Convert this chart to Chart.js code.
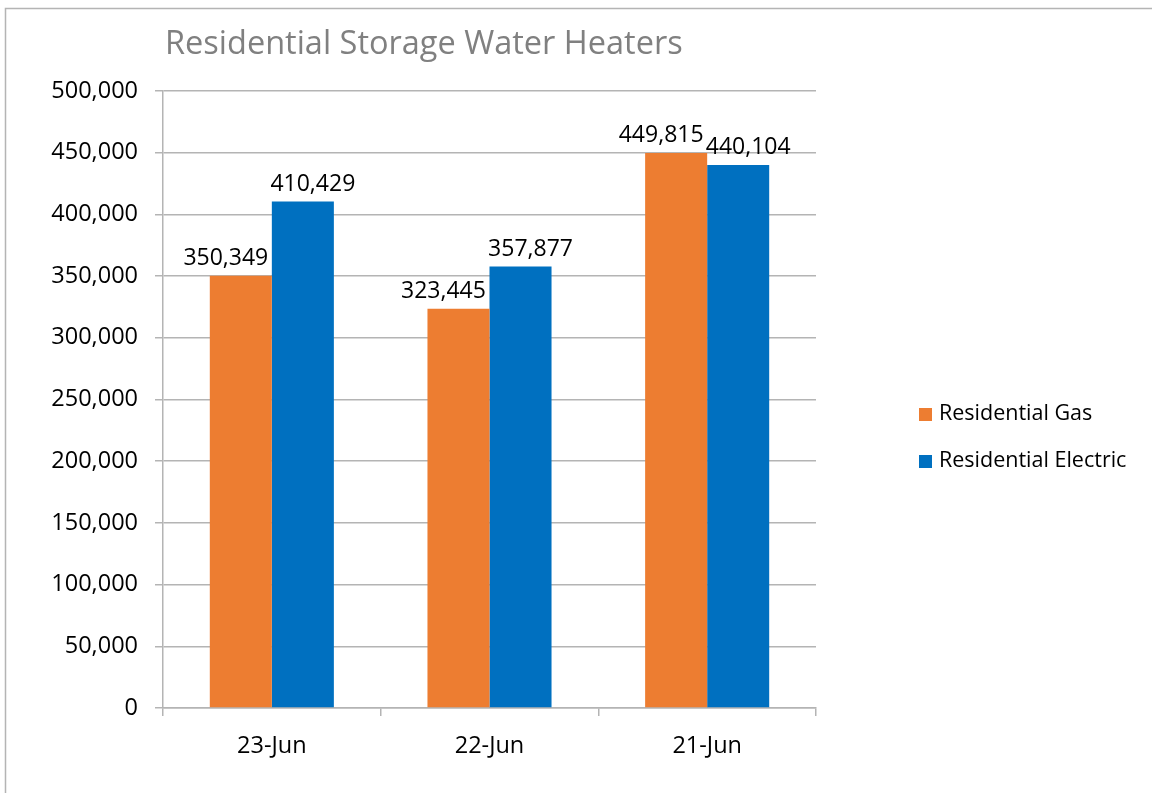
<!DOCTYPE html>
<html>
<head>
<meta charset="utf-8">
<script src="https://cdn.jsdelivr.net/npm/chart.js@4/dist/chart.umd.min.js"></script>
<style>
  html, body { margin: 0; padding: 0; background: #fff; }
  #wrap { width: 1152px; height: 793px; position: relative; }
</style>
</head>
<body>
<div id="wrap"><canvas id="heatersChart" width="1152" height="793"></canvas></div>
<script>
// data
const categories = ["23-Jun", "22-Jun", "21-Jun"];
const gasValues = [350349, 323445, 449815];
const electricValues = [410429, 357877, 440104];
const seriesNames = ["Residential Gas", "Residential Electric"];
const chartTitle = "Residential Storage Water Heaters";

const FONT = "'Open Sans', 'Noto Sans', sans-serif";
const fmt = (v) => v.toLocaleString("en-US");

// white background + outer frame, title, legend, value labels
const decorPlugin = {
  id: "decor",
  beforeDraw(chart) {
    const ctx = chart.ctx;
    ctx.save();
    ctx.fillStyle = "#fff";
    ctx.fillRect(0, 0, chart.width, chart.height);
    ctx.strokeStyle = "#b4b4b4";
    ctx.lineWidth = 1.5;
    ctx.strokeRect(5.5, 8.5, chart.width + 20, chart.height + 20);
    ctx.restore();
  },
  afterDraw(chart) {
    const ctx = chart.ctx;
    ctx.save();
    // title
    ctx.fillStyle = "#808080";
    ctx.font = "32.5px " + FONT;
    ctx.textAlign = "left";
    ctx.textBaseline = "alphabetic";
    ctx.fillText(chartTitle, 165, 54);

    // legend
    ctx.font = "21.5px " + FONT;
    ctx.textBaseline = "middle";
    chart.data.datasets.forEach((ds, i) => {
      const y = 414 + i * 47;
      ctx.fillStyle = ds.backgroundColor;
      ctx.fillRect(919, y - 6, 13, 13);
      ctx.fillStyle = "#000";
      ctx.fillText(ds.label, 939, y);
    });

    // value labels above bars
    ctx.font = "23px " + FONT;
    ctx.textAlign = "center";
    ctx.textBaseline = "middle";
    ctx.fillStyle = "#000";
    chart.data.datasets.forEach((ds, i) => {
      const meta = chart.getDatasetMeta(i);
      meta.data.forEach((bar, j) => {
        const shift = i === 0 ? -15 : 10;
        ctx.fillText(fmt(ds.data[j]), bar.x + shift, bar.y - 17);
      });
    });
    ctx.restore();
  },
};

const ctx = document.getElementById("heatersChart").getContext("2d");
const heatersChart = new Chart(ctx, {
  type: "bar",
  data: {
    labels: categories,
    datasets: [
      {
        label: seriesNames[0],
        data: gasValues,
        backgroundColor: "#ED7D31",
        categoryPercentage: 0.57,
        barPercentage: 1,
      },
      {
        label: seriesNames[1],
        data: electricValues,
        backgroundColor: "#0070C0",
        categoryPercentage: 0.57,
        barPercentage: 1,
      },
    ],
  },
  options: {
    responsive: false,
    animation: false,
    layout: {
      padding: { left: 0, top: 91, right: 336, bottom: 0 },
    },
    scales: {
      x: {
        grid: {
          drawOnChartArea: false,
          drawTicks: true,
          tickLength: 8,
          color: "#b4b4b4",
          lineWidth: 1.5,
        },
        border: { color: "#b4b4b4", width: 1.5 },
        ticks: {
          color: "#000",
          font: { family: FONT, size: 23.5 },
          padding: 16,
        },
        afterFit(scale) {
          scale.height = 85;
        },
      },
      y: {
        min: 0,
        max: 500000,
        ticks: {
          stepSize: 50000,
          color: "#000",
          font: { family: FONT, size: 23.5 },
          padding: 17,
          callback: (v) => fmt(v),
        },
        grid: {
          color: "#b4b4b4",
          lineWidth: 1.5,
          tickLength: 8,
        },
        border: { color: "#b4b4b4", width: 1.5 },
        afterFit(scale) {
          scale.width = 163;
        },
      },
    },
    plugins: {
      legend: { display: false },
      title: { display: false },
      tooltip: { enabled: false },
    },
  },
  plugins: [decorPlugin],
});
</script>
</body>
</html>
